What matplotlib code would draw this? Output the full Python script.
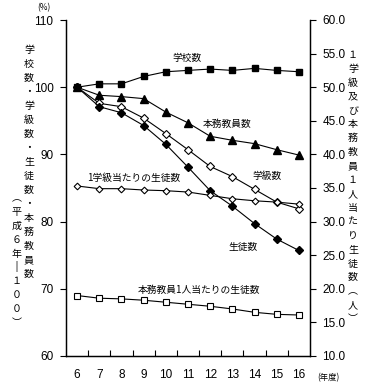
import numpy as np
import matplotlib
matplotlib.use('Agg')
import matplotlib.pyplot as plt

plt.rcParams['font.family'] = ['Noto Sans CJK JP', 'DejaVu Sans']

years = ['6', '7', '8', '9', '10', '11', '12', '13', '14', '15', '16']

# 左軸 (平成6年=100)
schools = [100, 100.5, 100.5, 101.6, 102.3, 102.5, 102.7, 102.5, 102.8, 102.5, 102.3]
teachers = [100, 98.8, 98.6, 98.3, 96.3, 94.7, 92.7, 92.1, 91.6, 90.7, 89.9]
classes = [100, 97.6, 97.1, 95.4, 93.1, 90.7, 88.2, 86.7, 84.8, 82.9, 81.9]
students = [100, 97.1, 96.2, 94.3, 91.5, 88.1, 84.6, 82.3, 79.7, 77.4, 75.7]

# 右軸 (人)
per_class = [35.3, 34.9, 34.9, 34.7, 34.6, 34.4, 33.9, 33.4, 33.1, 32.9, 32.6]
per_teacher = [19.0, 18.6, 18.5, 18.3, 18.0, 17.7, 17.4, 17.0, 16.5, 16.2, 16.1]

W, H = 377, 387
fig = plt.figure(figsize=(W / 100, H / 100), dpi=100)
ax = fig.add_axes([66 / W, 1 - 356 / H, 244 / W, 336 / H])
ax2 = ax.twinx()

x = np.arange(len(years))
lw = 0.8
ax.plot(x, schools, color='black', lw=lw, marker='s', ms=4.6, mfc='black', mec='black')
ax.plot(x, teachers, color='black', lw=lw, marker='^', ms=5.2, mfc='black', mec='black')
ax.plot(x, classes, color='black', lw=lw, marker='D', ms=4, mfc='white', mec='black', mew=0.8)
ax.plot(x, students, color='black', lw=lw, marker='D', ms=4, mfc='black', mec='black')
ax2.plot(x, per_class, color='black', lw=lw, marker='D', ms=3.4, mfc='white', mec='black', mew=0.8)
ax2.plot(x, per_teacher, color='black', lw=lw, marker='s', ms=4.5, mfc='white', mec='black', mew=0.8)

ax.set_xlim(-0.5, len(years) - 0.5)
ax.set_ylim(60, 110)
ax2.set_ylim(10, 60)

tick_font = dict(fontsize=8.5, family='Liberation Sans')
ax.set_xticks(x)
ax.set_xticklabels(years, **tick_font)
ax.set_xticks(np.arange(0.5, len(years) - 1, 1), minor=True)
ax.tick_params(axis='x', which='major', length=0, pad=9)
ax.tick_params(axis='x', which='minor', direction='in', length=4, width=0.8)

ax.set_yticks(np.arange(60, 111, 10))
ax.set_yticklabels([str(v) for v in range(60, 111, 10)], **tick_font)
ax.tick_params(axis='y', direction='out', length=4, width=0.8, pad=5)
ax2.set_yticks(np.arange(10, 61, 5))
ax2.set_yticklabels(['%.1f' % v for v in np.arange(10, 61, 5)], **tick_font)
ax2.tick_params(axis='y', direction='out', length=4, width=0.8, pad=5)

for a in (ax, ax2):
    a.spines['top'].set_visible(False)
    for s in ('left', 'right', 'bottom'):
        a.spines[s].set_linewidth(0.9)

fs = 7
ax.text(4.96, 104.3, '学校数', fontsize=fs, ha='center', va='center')
ax.text(6.76, 94.5, '本務教員数', fontsize=fs, ha='center', va='center')
ax.text(8.56, 86.8, '学級数', fontsize=fs, ha='center', va='center')
ax.text(2.57, 86.5, '1学級当たりの生徒数', fontsize=fs, ha='center', va='center')
ax.text(7.48, 76.2, '生徒数', fontsize=fs, ha='center', va='center')
ax.text(5.5, 69.8, '本務教員1人当たりの生徒数', fontsize=fs, ha='center', va='center')

fig.text(44 / W, 1 - 8 / H, '(%)', fontsize=6, ha='center', va='center')
fig.text(328 / W, 1 - 378 / H, '(年度)', fontsize=6, ha='center', va='center')


def vertical(label, px, py0, step=14):
    for i, ch in enumerate(label):
        fig.text(px / W, 1 - (py0 + i * step) / H, ch, fontsize=7.2,
                 ha='center', va='center')


vertical('学校数・学級数・生徒数・本務教員数', 29, 50)
vertical('︵平成６年‖１００︶', 17, 198, 13.9)
vertical('１学級及び本務教員１人当たり生徒数︵人︶', 353, 55, 13.9)

fig.savefig('out.png', dpi=100)
